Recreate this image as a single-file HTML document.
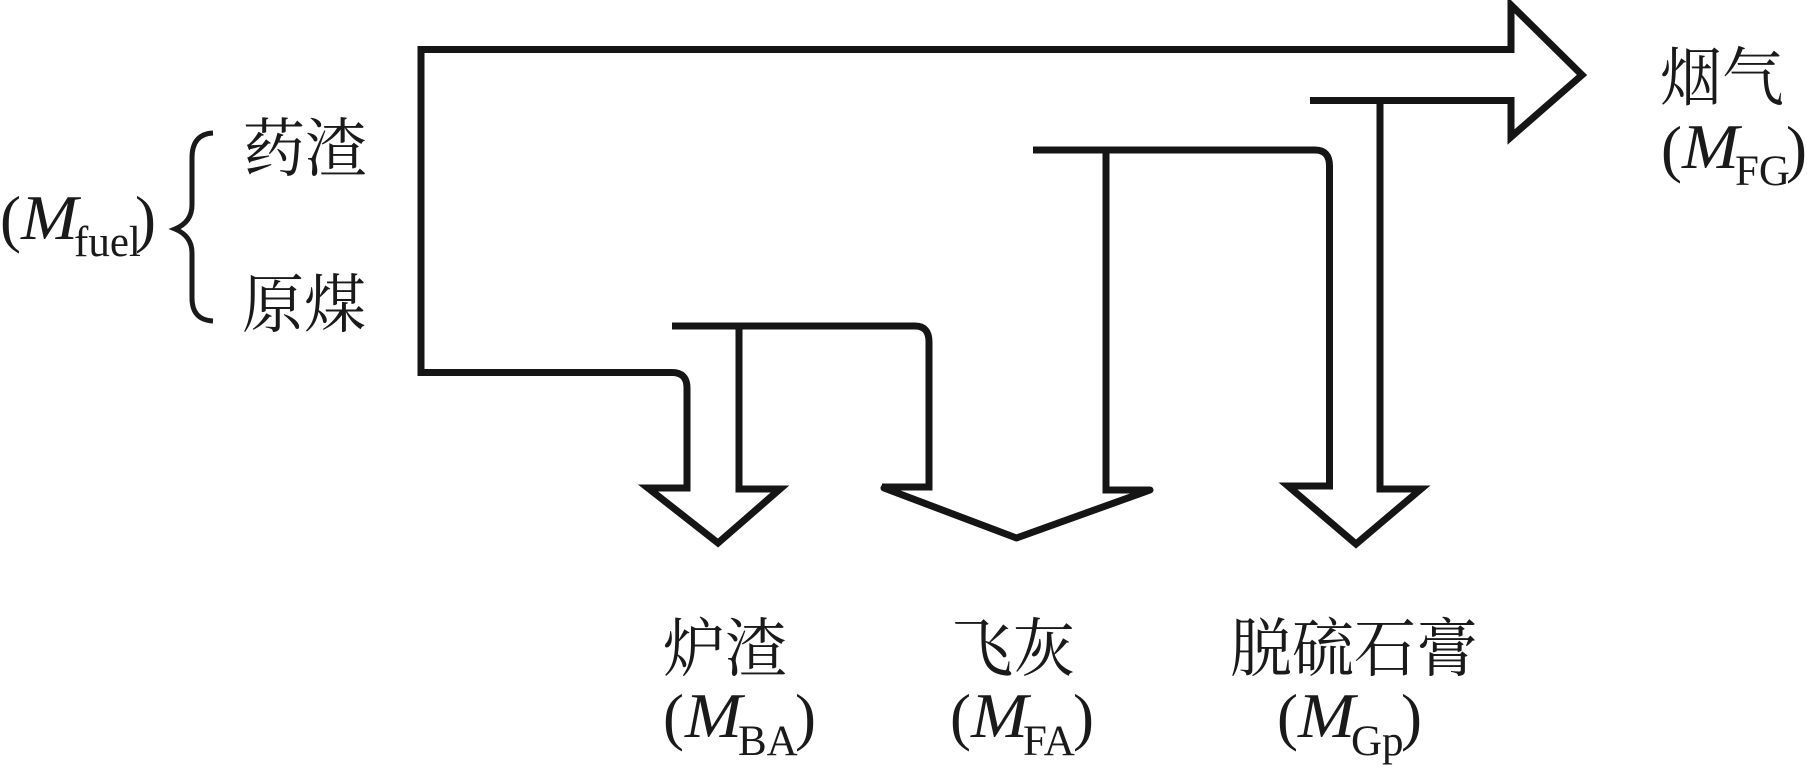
<!DOCTYPE html>
<html><head><meta charset="utf-8">
<style>
html,body{margin:0;padding:0;background:#fff}
svg{display:block}
.c{font-family:"Liberation Serif","Noto Serif CJK SC",serif;font-size:62px;fill:#1a1a1a}
.m{font-family:"Liberation Serif",serif;font-size:63px;fill:#1a1a1a}
.i{font-style:italic}
.s{font-family:"Liberation Serif",serif;font-size:43px;fill:#1a1a1a}
.l{fill:none;stroke:#151515;stroke-width:7;stroke-miterlimit:10}
.r{stroke-linejoin:round;stroke-linecap:round}
</style></head><body>
<svg width="1807" height="775" viewBox="0 0 1807 775" xmlns="http://www.w3.org/2000/svg">
<rect width="1807" height="775" fill="#fff"/>
<path class="l" d="M1380,100.5H1310M1380,100.5H1511V137L1582,75L1511,5V49.5H421V372.5H672Q687,372.5 687,388V488H648L718,543L780,489H739V326"/>
<path class="l" d="M672,326H915Q929,326 929,342V487H882"/>
<path class="l r" d="M884,488L1016.5,538L1150,490"/>
<path class="l" d="M1150,490H1106V150"/>
<path class="l" d="M1033,150H1315Q1329.5,150 1329.5,166V486H1288L1356,544L1421,489H1380V100"/>
<path d="M213,133Q192,134 192,158V205Q192,222 175,229Q192,236 192,253V298Q192,320 213,321" fill="none" stroke="#1a1a1a" stroke-width="5"/>

<text class="c" transform="translate(243,171) scale(1,1.04)">药渣</text>
<text class="c" transform="translate(242,327) scale(1,1.04)">原煤</text>
<text class="c" transform="translate(1660,100) scale(1,1.04)">烟气</text>
<text class="c" transform="translate(663,671) scale(1,1.04)">炉渣</text>
<text class="c" transform="translate(951,671) scale(1,1.04)">飞灰</text>
<text class="c" transform="translate(1230,671) scale(1,1.04)">脱硫石膏</text>

<text class="m" x="0" y="240">(</text><text class="m i" x="21" y="239" textLength="57" lengthAdjust="spacingAndGlyphs">M</text><text class="s" x="74" y="256">fuel</text><text class="m" x="135" y="240">)</text>
<text class="m" x="1661" y="170">(</text><text class="m i" x="1682" y="168" textLength="57" lengthAdjust="spacingAndGlyphs">M</text><text class="s" x="1735" y="185">FG</text><text class="m" x="1786" y="170">)</text>
<text class="m" x="663" y="738">(</text><text class="m i" x="685" y="737" textLength="57" lengthAdjust="spacingAndGlyphs">M</text><text class="s" x="738" y="755">BA</text><text class="m" x="795" y="738">)</text>
<text class="m" x="950" y="738">(</text><text class="m i" x="971" y="737" textLength="57" lengthAdjust="spacingAndGlyphs">M</text><text class="s" x="1023" y="755">FA</text><text class="m" x="1073" y="738">)</text>
<text class="m" x="1277" y="738">(</text><text class="m i" x="1298" y="737" textLength="57" lengthAdjust="spacingAndGlyphs">M</text><text class="s" x="1351" y="755">Gp</text><text class="m" x="1401" y="738">)</text>
</svg>
</body></html>
